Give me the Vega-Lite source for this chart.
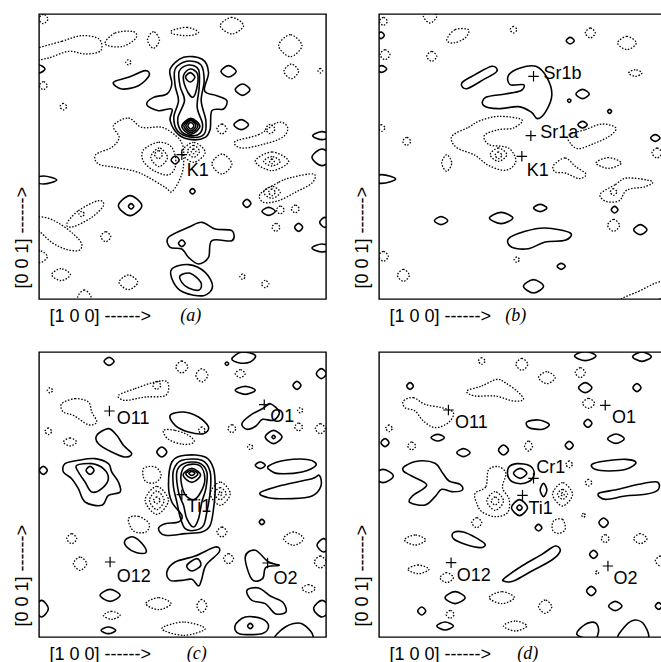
{
"$schema":"https://vega.github.io/schema/vega-lite/v6.json",
"padding":{"left":12,"top":13,"right":0,"bottom":0},
"columns":2,
"spacing":53,
"bounds":"flush",
"config":{
 "view":{"stroke":"black","strokeWidth":1.4},
 "axis":{"domain":false,"ticks":false,"labels":false,"grid":false,"titleFont":"Liberation Sans","titleFontSize":18,"titleFontWeight":"normal","titleColor":"black"},
 "axisX":{"titleX":10,"titleY":22,"titleAlign":"left","titleBaseline":"alphabetic","titleAnchor":"start"},
 "axisY":{"titleX":-12,"titleY":274,"titleAlign":"left","titleBaseline":"alphabetic","titleAngle":270,"titleAnchor":"start"}
},
"datasets":{
"atoms":[
{"p":"a","t":"K1","x":4.28,"y":4.33,"tx":4.43,"ty":3.70},
{"p":"b","t":"Sr1b","x":4.63,"y":6.68,"tx":4.93,"ty":6.61},
{"p":"b","t":"Sr1a","x":4.55,"y":4.90,"tx":4.83,"ty":4.83},
{"p":"b","t":"K1","x":4.28,"y":4.28,"tx":4.43,"ty":3.68},
{"p":"c","t":"O11","x":2.11,"y":6.78,"tx":2.33,"ty":6.40},
{"p":"c","t":"O1","x":6.75,"y":6.97,"tx":6.93,"ty":6.45},
{"p":"c","t":"Ti1","x":4.28,"y":4.27,"tx":4.43,"ty":3.75},
{"p":"c","t":"O12","x":2.13,"y":2.25,"tx":2.33,"ty":1.65},
{"p":"c","t":"O2","x":6.85,"y":2.22,"tx":7.03,"ty":1.60},
{"p":"d","t":"O11","x":2.08,"y":6.81,"tx":2.28,"ty":6.28},
{"p":"d","t":"O1","x":6.78,"y":6.95,"tx":6.98,"ty":6.41},
{"p":"d","t":"Cr1","x":4.63,"y":4.76,"tx":4.71,"ty":4.93},
{"p":"d","t":"Ti1","x":4.30,"y":4.25,"tx":4.48,"ty":3.68},
{"p":"d","t":"O12","x":2.16,"y":2.23,"tx":2.33,"ty":1.68},
{"p":"d","t":"O2","x":6.86,"y":2.13,"tx":7.03,"ty":1.58}
],
"letters":[
{"p":"a","t":"(a)","x":4.23,"y":-0.52},
{"p":"b","t":"(b)","x":3.78,"y":-0.52},
{"p":"c","t":"(c)","x":4.43,"y":-0.52},
{"p":"d","t":"(d)","x":4.14,"y":-0.52}
],
"ap":[
{"c":1,"x":3.93,"y":6.90},{"c":1,"x":4.33,"y":7.25},{"c":1,"x":4.88,"y":7.20},{"c":1,"x":5.08,"y":6.80},{"c":1,"x":4.96,"y":6.25},{"c":1,"x":5.33,"y":6.10},{"c":1,"x":5.63,"y":5.95},{"c":1,"x":5.53,"y":5.70},{"c":1,"x":5.18,"y":5.65},{"c":1,"x":5.13,"y":5.10},{"c":1,"x":4.98,"y":4.85},{"c":1,"x":4.58,"y":4.78},{"c":1,"x":4.18,"y":4.93},{"c":1,"x":3.93,"y":5.35},{"c":1,"x":3.98,"y":5.70},{"c":1,"x":3.58,"y":5.65},{"c":1,"x":3.23,"y":5.83},{"c":1,"x":3.43,"y":6.05},{"c":1,"x":3.83,"y":6.15},{"c":1,"x":3.98,"y":6.45},
{"c":2,"x":4.08,"y":6.90},{"c":2,"x":4.43,"y":7.13},{"c":2,"x":4.85,"y":7.03},{"c":2,"x":4.95,"y":6.55},{"c":2,"x":4.86,"y":5.95},{"c":2,"x":5.00,"y":5.35},{"c":2,"x":4.95,"y":4.95},{"c":2,"x":4.58,"y":4.85},{"c":2,"x":4.16,"y":5.03},{"c":2,"x":4.04,"y":5.45},{"c":2,"x":4.18,"y":5.95},{"c":2,"x":4.08,"y":6.40},
{"c":3,"x":4.20,"y":6.83},{"c":3,"x":4.48,"y":7.02},{"c":3,"x":4.78,"y":6.88},{"c":3,"x":4.80,"y":6.35},{"c":3,"x":4.74,"y":5.75},{"c":3,"x":4.90,"y":5.25},{"c":3,"x":4.82,"y":4.97},{"c":3,"x":4.54,"y":4.90},{"c":3,"x":4.25,"y":5.05},{"c":3,"x":4.16,"y":5.43},{"c":3,"x":4.36,"y":5.95},{"c":3,"x":4.23,"y":6.37},
{"c":4,"x":4.33,"y":6.70},{"c":4,"x":4.53,"y":6.90},{"c":4,"x":4.75,"y":6.75},{"c":4,"x":4.73,"y":6.33},{"c":4,"x":4.60,"y":6.05},{"c":4,"x":4.40,"y":6.33},
{"c":5,"x":4.67,"y":6.65},{"c":5,"x":4.53,"y":6.79},{"c":5,"x":4.39,"y":6.65},{"c":5,"x":4.53,"y":6.51},
{"c":6,"x":4.82,"y":5.18},{"c":6,"x":4.55,"y":5.42},{"c":6,"x":4.28,"y":5.18},{"c":6,"x":4.55,"y":4.94},
{"c":7,"x":4.76,"y":5.19},{"c":7,"x":4.55,"y":5.39},{"c":7,"x":4.34,"y":5.19},{"c":7,"x":4.55,"y":4.99},
{"c":8,"x":4.70,"y":5.20},{"c":8,"x":4.55,"y":5.36},{"c":8,"x":4.40,"y":5.20},{"c":8,"x":4.55,"y":5.04},
{"c":9,"x":4.64,"y":5.20},{"c":9,"x":4.55,"y":5.30},{"c":9,"x":4.46,"y":5.20},{"c":9,"x":4.55,"y":5.10},
{"c":10,"x":2.23,"y":6.50},{"c":10,"x":2.68,"y":6.65},{"c":10,"x":3.18,"y":6.85},{"c":10,"x":3.30,"y":6.70},{"c":10,"x":2.98,"y":6.40},{"c":10,"x":2.48,"y":6.30},
{"c":11,"x":5.91,"y":6.83},{"c":11,"x":5.68,"y":7.00},{"c":11,"x":5.45,"y":6.83},{"c":11,"x":5.68,"y":6.66},
{"c":12,"x":6.32,"y":6.28},{"c":12,"x":6.10,"y":6.45},{"c":12,"x":5.88,"y":6.28},{"c":12,"x":6.10,"y":6.11},
{"c":13,"x":6.28,"y":5.23},{"c":13,"x":6.06,"y":5.38},{"c":13,"x":5.84,"y":5.23},{"c":13,"x":6.06,"y":5.08},
{"c":14,"x":0.18,"y":6.90},{"c":14,"x":0,"y":7.02},{"c":14,"x":-0.18,"y":6.90},{"c":14,"x":0,"y":6.78},
{"c":15,"x":8.76,"y":4.90},{"c":15,"x":8.48,"y":5.02},{"c":15,"x":8.20,"y":4.90},{"c":15,"x":8.48,"y":4.78},
{"c":16,"x":8.78,"y":4.25},{"c":16,"x":8.48,"y":4.50},{"c":16,"x":8.18,"y":4.25},{"c":16,"x":8.48,"y":4.00},
{"c":17,"x":0.53,"y":3.57},{"c":17,"x":0.13,"y":3.69},{"c":17,"x":-0.27,"y":3.57},{"c":17,"x":0.13,"y":3.45},
{"c":18,"x":4.68,"y":3.23},{"c":18,"x":4.60,"y":3.31},{"c":18,"x":4.52,"y":3.23},{"c":18,"x":4.60,"y":3.15},
{"c":19,"x":4.20,"y":4.17},{"c":19,"x":4.08,"y":4.29},{"c":19,"x":3.96,"y":4.17},{"c":19,"x":4.08,"y":4.05},
{"c":20,"x":3.08,"y":2.80},{"c":20,"x":2.73,"y":3.10},{"c":20,"x":2.38,"y":2.80},{"c":20,"x":2.73,"y":2.50},
{"c":21,"x":2.84,"y":2.78},{"c":21,"x":2.76,"y":2.86},{"c":21,"x":2.68,"y":2.78},{"c":21,"x":2.76,"y":2.70},
{"c":22,"x":6.35,"y":2.87},{"c":22,"x":6.23,"y":2.99},{"c":22,"x":6.11,"y":2.87},{"c":22,"x":6.23,"y":2.75},
{"c":23,"x":7.08,"y":2.63},{"c":23,"x":6.88,"y":2.75},{"c":23,"x":6.68,"y":2.63},{"c":23,"x":6.88,"y":2.51},
{"c":24,"x":7.90,"y":2.15},{"c":24,"x":7.78,"y":2.27},{"c":24,"x":7.66,"y":2.15},{"c":24,"x":7.78,"y":2.03},
{"c":25,"x":8.71,"y":2.30},{"c":25,"x":8.56,"y":2.45},{"c":25,"x":8.41,"y":2.30},{"c":25,"x":8.56,"y":2.15},
{"c":26,"x":3.88,"y":1.85},{"c":26,"x":4.48,"y":2.15},{"c":26,"x":4.88,"y":2.30},{"c":26,"x":5.28,"y":2.10},{"c":26,"x":5.78,"y":2.05},{"c":26,"x":5.78,"y":1.75},{"c":26,"x":5.18,"y":1.75},{"c":26,"x":5.08,"y":1.25},{"c":26,"x":4.78,"y":1.05},{"c":26,"x":4.48,"y":1.25},{"c":26,"x":4.28,"y":1.50},{"c":26,"x":3.93,"y":1.55},
{"c":27,"x":4.38,"y":1.67},{"c":27,"x":4.28,"y":1.77},{"c":27,"x":4.18,"y":1.67},{"c":27,"x":4.28,"y":1.57},
{"c":28,"x":3.98,"y":0.90},{"c":28,"x":4.48,"y":1.03},{"c":28,"x":4.98,"y":0.80},{"c":28,"x":5.20,"y":0.37},{"c":28,"x":4.93,"y":0.10},{"c":28,"x":4.33,"y":0.20},{"c":28,"x":4.03,"y":0.50},
{"c":29,"x":4.23,"y":0.70},{"c":29,"x":4.53,"y":0.77},{"c":29,"x":4.85,"y":0.50},{"c":29,"x":4.80,"y":0.27},{"c":29,"x":4.48,"y":0.33},{"c":29,"x":4.28,"y":0.50},
{"c":30,"x":8.78,"y":1.53},{"c":30,"x":8.48,"y":1.65},{"c":30,"x":8.18,"y":1.53},{"c":30,"x":8.48,"y":1.41}
],
"an":[
{"c":31,"x":-0.22,"y":7.45},{"c":31,"x":0.68,"y":7.73},{"c":31,"x":1.28,"y":7.90},{"c":31,"x":1.80,"y":7.80},{"c":31,"x":1.85,"y":7.45},{"c":31,"x":1.40,"y":7.35},{"c":31,"x":0.88,"y":7.43},{"c":31,"x":0.28,"y":7.23},{"c":31,"x":-0.22,"y":7.17},
{"c":32,"x":1.98,"y":7.65},{"c":32,"x":2.28,"y":7.98},{"c":32,"x":2.83,"y":8.02},{"c":32,"x":2.90,"y":7.82},{"c":32,"x":2.48,"y":7.57},
{"c":33,"x":3.61,"y":7.77},{"c":33,"x":3.43,"y":8.02},{"c":33,"x":3.25,"y":7.77},{"c":33,"x":3.43,"y":7.52},
{"c":34,"x":3.98,"y":8.05},{"c":34,"x":4.43,"y":8.15},{"c":34,"x":4.78,"y":8.00},{"c":34,"x":4.48,"y":7.90},{"c":34,"x":4.03,"y":7.95},
{"c":35,"x":6.13,"y":8.20},{"c":35,"x":5.78,"y":8.45},{"c":35,"x":5.43,"y":8.20},{"c":35,"x":5.78,"y":7.95},
{"c":36,"x":7.88,"y":7.60},{"c":36,"x":7.53,"y":7.93},{"c":36,"x":7.18,"y":7.60},{"c":36,"x":7.53,"y":7.27},
{"c":37,"x":7.78,"y":6.83},{"c":37,"x":7.56,"y":7.05},{"c":37,"x":7.34,"y":6.83},{"c":37,"x":7.56,"y":6.61},
{"c":38,"x":8.50,"y":6.85},{"c":38,"x":8.43,"y":6.92},{"c":38,"x":8.36,"y":6.85},{"c":38,"x":8.43,"y":6.78},
{"c":39,"x":2.76,"y":7.10},{"c":39,"x":2.68,"y":7.18},{"c":39,"x":2.60,"y":7.10},{"c":39,"x":2.68,"y":7.02},
{"c":40,"x":0.25,"y":6.40},{"c":40,"x":0.13,"y":6.52},{"c":40,"x":0.01,"y":6.40},{"c":40,"x":0.13,"y":6.28},
{"c":41,"x":0.83,"y":5.77},{"c":41,"x":0.73,"y":5.87},{"c":41,"x":0.63,"y":5.77},{"c":41,"x":0.73,"y":5.67},
{"c":42,"x":2.23,"y":5.20},{"c":42,"x":2.68,"y":5.43},{"c":42,"x":3.08,"y":5.15},{"c":42,"x":3.68,"y":5.15},{"c":42,"x":4.10,"y":4.90},{"c":42,"x":4.30,"y":4.63},{"c":42,"x":4.34,"y":4.25},{"c":42,"x":4.28,"y":3.75},{"c":42,"x":4.00,"y":3.23},{"c":42,"x":3.78,"y":3.35},{"c":42,"x":3.28,"y":3.65},{"c":42,"x":2.88,"y":3.83},{"c":42,"x":2.28,"y":3.95},{"c":42,"x":1.78,"y":4.05},{"c":42,"x":1.70,"y":4.33},{"c":42,"x":2.18,"y":4.55},{"c":42,"x":2.40,"y":4.85},
{"c":43,"x":3.13,"y":4.47},{"c":43,"x":3.58,"y":4.70},{"c":43,"x":3.98,"y":4.55},{"c":43,"x":4.10,"y":4.05},{"c":43,"x":3.90,"y":3.73},{"c":43,"x":3.48,"y":3.83},{"c":43,"x":3.13,"y":4.13},
{"c":44,"x":3.85,"y":4.25},{"c":44,"x":3.60,"y":4.53},{"c":44,"x":3.35,"y":4.25},{"c":44,"x":3.60,"y":3.97},
{"c":45,"x":3.70,"y":4.33},{"c":45,"x":3.58,"y":4.45},{"c":45,"x":3.46,"y":4.33},{"c":45,"x":3.58,"y":4.21},
{"c":46,"x":4.98,"y":4.40},{"c":46,"x":4.63,"y":4.70},{"c":46,"x":4.28,"y":4.40},{"c":46,"x":4.63,"y":4.10},
{"c":47,"x":4.81,"y":4.43},{"c":47,"x":4.63,"y":4.61},{"c":47,"x":4.45,"y":4.43},{"c":47,"x":4.63,"y":4.25},
{"c":48,"x":4.70,"y":4.43},{"c":48,"x":4.63,"y":4.50},{"c":48,"x":4.56,"y":4.43},{"c":48,"x":4.63,"y":4.36},
{"c":49,"x":5.78,"y":4.05},{"c":49,"x":5.48,"y":4.35},{"c":49,"x":5.18,"y":4.05},{"c":49,"x":5.48,"y":3.75},
{"c":50,"x":5.63,"y":5.10},{"c":50,"x":5.48,"y":5.25},{"c":50,"x":5.33,"y":5.10},{"c":50,"x":5.48,"y":4.95},
{"c":51,"x":5.88,"y":4.73},{"c":51,"x":6.58,"y":4.93},{"c":51,"x":7.16,"y":5.30},{"c":51,"x":7.45,"y":5.15},{"c":51,"x":7.30,"y":4.85},{"c":51,"x":6.68,"y":4.63},{"c":51,"x":6.06,"y":4.53},
{"c":52,"x":7.07,"y":5.10},{"c":52,"x":6.93,"y":5.24},{"c":52,"x":6.79,"y":5.10},{"c":52,"x":6.93,"y":4.96},
{"c":53,"x":7.48,"y":4.13},{"c":53,"x":6.98,"y":4.41},{"c":53,"x":6.48,"y":4.13},{"c":53,"x":6.98,"y":3.85},
{"c":54,"x":7.23,"y":4.13},{"c":54,"x":6.98,"y":4.27},{"c":54,"x":6.73,"y":4.13},{"c":54,"x":6.98,"y":3.99},
{"c":55,"x":7.05,"y":4.13},{"c":55,"x":6.98,"y":4.20},{"c":55,"x":6.91,"y":4.13},{"c":55,"x":6.98,"y":4.06},
{"c":56,"x":6.63,"y":3.15},{"c":56,"x":7.18,"y":3.50},{"c":56,"x":7.58,"y":3.65},{"c":56,"x":8.23,"y":3.75},{"c":56,"x":8.18,"y":3.48},{"c":56,"x":7.68,"y":3.20},{"c":56,"x":7.18,"y":2.95},{"c":56,"x":6.73,"y":2.90},
{"c":57,"x":7.23,"y":3.20},{"c":57,"x":6.98,"y":3.38},{"c":57,"x":6.73,"y":3.20},{"c":57,"x":6.98,"y":3.02},
{"c":58,"x":7.08,"y":3.20},{"c":58,"x":6.98,"y":3.30},{"c":58,"x":6.88,"y":3.20},{"c":58,"x":6.98,"y":3.10},
{"c":59,"x":0.83,"y":2.25},{"c":59,"x":1.18,"y":2.65},{"c":59,"x":1.78,"y":2.95},{"c":59,"x":1.93,"y":2.80},{"c":59,"x":1.58,"y":2.45},{"c":59,"x":1.03,"y":2.17},
{"c":60,"x":1.36,"y":2.55},{"c":60,"x":1.28,"y":2.63},{"c":60,"x":1.20,"y":2.55},{"c":60,"x":1.28,"y":2.47},
{"c":61,"x":-0.22,"y":2.40},{"c":61,"x":0.18,"y":2.45},{"c":61,"x":0.63,"y":2.25},{"c":61,"x":1.03,"y":1.95},{"c":61,"x":1.28,"y":1.65},{"c":61,"x":1.18,"y":1.45},{"c":61,"x":0.78,"y":1.50},{"c":61,"x":0.38,"y":1.70},{"c":61,"x":-0.02,"y":2.05},{"c":61,"x":-0.22,"y":2.05},
{"c":62,"x":2.15,"y":1.87},{"c":62,"x":2.00,"y":2.02},{"c":62,"x":1.85,"y":1.87},{"c":62,"x":2.00,"y":1.72},
{"c":63,"x":0.25,"y":1.27},{"c":63,"x":0.03,"y":1.45},{"c":63,"x":-0.19,"y":1.27},{"c":63,"x":0.03,"y":1.09},
{"c":64,"x":0.94,"y":0.73},{"c":64,"x":0.66,"y":0.91},{"c":64,"x":0.38,"y":0.73},{"c":64,"x":0.66,"y":0.55},
{"c":65,"x":1.56,"y":0.05},{"c":65,"x":1.36,"y":0.27},{"c":65,"x":1.16,"y":0.05},{"c":65,"x":1.36,"y":-0.17},
{"c":66,"x":2.96,"y":0.50},{"c":66,"x":2.68,"y":0.72},{"c":66,"x":2.40,"y":0.50},{"c":66,"x":2.68,"y":0.28},
{"c":67,"x":7.35,"y":2.67},{"c":67,"x":7.23,"y":2.79},{"c":67,"x":7.11,"y":2.67},{"c":67,"x":7.23,"y":2.55},
{"c":68,"x":7.80,"y":2.70},{"c":68,"x":7.68,"y":2.82},{"c":68,"x":7.56,"y":2.70},{"c":68,"x":7.68,"y":2.58},
{"c":69,"x":7.22,"y":2.15},{"c":69,"x":7.10,"y":2.27},{"c":69,"x":6.98,"y":2.15},{"c":69,"x":7.10,"y":2.03},
{"c":70,"x":6.18,"y":0.67},{"c":70,"x":6.10,"y":0.75},{"c":70,"x":6.02,"y":0.67},{"c":70,"x":6.10,"y":0.59},
{"c":71,"x":6.89,"y":0.45},{"c":71,"x":6.78,"y":0.56},{"c":71,"x":6.67,"y":0.45},{"c":71,"x":6.78,"y":0.34},
{"c":72,"x":0.27,"y":8.40},{"c":72,"x":0.13,"y":8.54},{"c":72,"x":-0.01,"y":8.40},{"c":72,"x":0.13,"y":8.26}
],
"bp":[
{"c":1,"x":3.88,"y":6.71},{"c":1,"x":4.23,"y":6.93},{"c":1,"x":4.70,"y":6.98},{"c":1,"x":5.03,"y":6.65},{"c":1,"x":5.18,"y":6.13},{"c":1,"x":5.00,"y":5.63},{"c":1,"x":4.75,"y":5.41},{"c":1,"x":4.56,"y":5.61},{"c":1,"x":4.18,"y":5.77},{"c":1,"x":3.58,"y":5.71},{"c":1,"x":3.13,"y":5.81},{"c":1,"x":3.20,"y":6.05},{"c":1,"x":3.78,"y":6.15},{"c":1,"x":4.25,"y":6.25},{"c":1,"x":4.33,"y":6.43},{"c":1,"x":3.93,"y":6.43},
{"c":2,"x":2.48,"y":6.48},{"c":2,"x":2.88,"y":6.73},{"c":2,"x":3.38,"y":6.98},{"c":2,"x":3.53,"y":6.83},{"c":2,"x":3.13,"y":6.58},{"c":2,"x":2.63,"y":6.31},
{"c":3,"x":5.85,"y":7.75},{"c":3,"x":5.73,"y":7.85},{"c":3,"x":5.61,"y":7.75},{"c":3,"x":5.73,"y":7.65},
{"c":4,"x":6.30,"y":6.15},{"c":4,"x":6.10,"y":6.29},{"c":4,"x":5.90,"y":6.15},{"c":4,"x":6.10,"y":6.01},
{"c":5,"x":5.75,"y":5.95},{"c":5,"x":5.70,"y":6.00},{"c":5,"x":5.65,"y":5.95},{"c":5,"x":5.70,"y":5.90},
{"c":6,"x":6.97,"y":5.63},{"c":6,"x":6.91,"y":5.69},{"c":6,"x":6.85,"y":5.63},{"c":6,"x":6.91,"y":5.57},
{"c":7,"x":0.16,"y":7.91},{"c":7,"x":0.06,"y":8.01},{"c":7,"x":-0.04,"y":7.91},{"c":7,"x":0.06,"y":7.81},
{"c":8,"x":0.23,"y":6.90},{"c":8,"x":0.08,"y":7.00},{"c":8,"x":-0.07,"y":6.90},{"c":8,"x":0.08,"y":6.80},
{"c":9,"x":0.50,"y":3.60},{"c":9,"x":0.08,"y":3.73},{"c":9,"x":-0.34,"y":3.60},{"c":9,"x":0.08,"y":3.47},
{"c":10,"x":2.06,"y":2.35},{"c":10,"x":1.86,"y":2.47},{"c":10,"x":1.66,"y":2.35},{"c":10,"x":1.86,"y":2.23},
{"c":11,"x":4.01,"y":2.43},{"c":11,"x":3.66,"y":2.60},{"c":11,"x":3.31,"y":2.43},{"c":11,"x":3.66,"y":2.26},
{"c":12,"x":5.03,"y":2.73},{"c":12,"x":4.83,"y":2.84},{"c":12,"x":4.63,"y":2.73},{"c":12,"x":4.83,"y":2.62},
{"c":13,"x":3.88,"y":1.81},{"c":13,"x":4.38,"y":2.03},{"c":13,"x":4.98,"y":2.13},{"c":13,"x":5.73,"y":1.98},{"c":13,"x":5.58,"y":1.76},{"c":13,"x":4.98,"y":1.71},{"c":13,"x":4.48,"y":1.51},{"c":13,"x":3.98,"y":1.55},
{"c":14,"x":5.58,"y":0.98},{"c":14,"x":5.46,"y":1.07},{"c":14,"x":5.34,"y":0.98},{"c":14,"x":5.46,"y":0.89},
{"c":15,"x":4.93,"y":0.38},{"c":15,"x":4.63,"y":0.58},{"c":15,"x":4.33,"y":0.38},{"c":15,"x":4.63,"y":0.18},
{"c":16,"x":7.16,"y":2.68},{"c":16,"x":7.06,"y":2.78},{"c":16,"x":6.96,"y":2.68},{"c":16,"x":7.06,"y":2.58},
{"c":17,"x":8.03,"y":2.08},{"c":17,"x":7.83,"y":2.23},{"c":17,"x":7.63,"y":2.08},{"c":17,"x":7.83,"y":1.93},
{"c":18,"x":8.42,"y":4.83},{"c":18,"x":8.28,"y":4.93},{"c":18,"x":8.14,"y":4.83},{"c":18,"x":8.28,"y":4.73},
{"c":19,"x":6.24,"y":5.23},{"c":19,"x":6.10,"y":5.33},{"c":19,"x":5.96,"y":5.23},{"c":19,"x":6.10,"y":5.13}
],
"bn":[
{"c":20,"x":2.23,"y":4.93},{"c":20,"x":2.68,"y":5.15},{"c":20,"x":3.03,"y":5.35},{"c":20,"x":3.58,"y":5.48},{"c":20,"x":4.28,"y":5.38},{"c":20,"x":4.03,"y":5.13},{"c":20,"x":3.58,"y":5.08},{"c":20,"x":3.16,"y":4.91},{"c":20,"x":3.30,"y":4.63},{"c":20,"x":3.88,"y":4.53},{"c":20,"x":4.10,"y":4.13},{"c":20,"x":3.80,"y":3.86},{"c":20,"x":3.28,"y":4.01},{"c":20,"x":2.88,"y":4.31},{"c":20,"x":2.38,"y":4.51},{"c":20,"x":2.18,"y":4.73},
{"c":21,"x":3.83,"y":4.33},{"c":21,"x":3.58,"y":4.53},{"c":21,"x":3.33,"y":4.33},{"c":21,"x":3.58,"y":4.13},
{"c":22,"x":3.68,"y":4.31},{"c":22,"x":3.58,"y":4.41},{"c":22,"x":3.48,"y":4.31},{"c":22,"x":3.58,"y":4.21},
{"c":23,"x":2.18,"y":4.08},{"c":23,"x":2.03,"y":4.33},{"c":23,"x":1.88,"y":4.08},{"c":23,"x":2.03,"y":3.83},
{"c":24,"x":0.95,"y":4.73},{"c":24,"x":0.83,"y":4.85},{"c":24,"x":0.71,"y":4.73},{"c":24,"x":0.83,"y":4.61},
{"c":25,"x":1.73,"y":7.28},{"c":25,"x":1.58,"y":7.43},{"c":25,"x":1.43,"y":7.28},{"c":25,"x":1.58,"y":7.13},
{"c":26,"x":2.03,"y":7.78},{"c":26,"x":2.28,"y":8.08},{"c":26,"x":2.68,"y":8.08},{"c":26,"x":2.58,"y":7.83},{"c":26,"x":2.23,"y":7.68},
{"c":27,"x":4.13,"y":8.08},{"c":27,"x":4.03,"y":8.18},{"c":27,"x":3.93,"y":8.08},{"c":27,"x":4.03,"y":7.98},
{"c":28,"x":6.48,"y":7.98},{"c":28,"x":6.33,"y":8.13},{"c":28,"x":6.18,"y":7.98},{"c":28,"x":6.33,"y":7.83},
{"c":29,"x":7.71,"y":7.68},{"c":29,"x":7.43,"y":7.88},{"c":29,"x":7.15,"y":7.68},{"c":29,"x":7.43,"y":7.48},
{"c":30,"x":7.88,"y":6.78},{"c":30,"x":7.68,"y":6.88},{"c":30,"x":7.48,"y":6.78},{"c":30,"x":7.68,"y":6.68},
{"c":31,"x":0.33,"y":7.33},{"c":31,"x":0.18,"y":7.48},{"c":31,"x":0.03,"y":7.33},{"c":31,"x":0.18,"y":7.18},
{"c":32,"x":0.18,"y":5.13},{"c":32,"x":0.08,"y":5.23},{"c":32,"x":-0.02,"y":5.13},{"c":32,"x":0.08,"y":5.03},
{"c":33,"x":5.68,"y":4.91},{"c":33,"x":6.18,"y":5.08},{"c":33,"x":6.68,"y":5.25},{"c":33,"x":7.10,"y":5.13},{"c":33,"x":6.90,"y":4.88},{"c":33,"x":6.48,"y":4.68},{"c":33,"x":5.98,"y":4.51},{"c":33,"x":5.73,"y":4.68},
{"c":34,"x":5.23,"y":4.01},{"c":34,"x":5.58,"y":4.23},{"c":34,"x":5.88,"y":3.98},{"c":34,"x":6.20,"y":3.75},{"c":34,"x":6.00,"y":3.61},{"c":34,"x":5.58,"y":3.78},{"c":34,"x":5.28,"y":3.81},
{"c":35,"x":7.26,"y":4.08},{"c":35,"x":6.88,"y":4.24},{"c":35,"x":6.50,"y":4.08},{"c":35,"x":6.88,"y":3.92},
{"c":36,"x":8.48,"y":4.38},{"c":36,"x":8.33,"y":4.53},{"c":36,"x":8.18,"y":4.38},{"c":36,"x":8.33,"y":4.23},
{"c":37,"x":6.63,"y":3.15},{"c":37,"x":7.08,"y":3.43},{"c":37,"x":7.43,"y":3.63},{"c":37,"x":8.18,"y":3.53},{"c":37,"x":7.98,"y":3.37},{"c":37,"x":7.43,"y":3.27},{"c":37,"x":7.20,"y":2.95},{"c":37,"x":6.80,"y":2.93},
{"c":38,"x":7.13,"y":3.21},{"c":38,"x":7.03,"y":3.31},{"c":38,"x":6.93,"y":3.21},{"c":38,"x":7.03,"y":3.11},
{"c":39,"x":7.21,"y":2.21},{"c":39,"x":7.03,"y":2.39},{"c":39,"x":6.85,"y":2.21},{"c":39,"x":7.03,"y":2.03},
{"c":40,"x":4.21,"y":1.18},{"c":40,"x":4.13,"y":1.26},{"c":40,"x":4.05,"y":1.18},{"c":40,"x":4.13,"y":1.10},
{"c":41,"x":0.91,"y":0.71},{"c":41,"x":0.73,"y":0.89},{"c":41,"x":0.55,"y":0.71},{"c":41,"x":0.73,"y":0.53},
{"c":42,"x":0.28,"y":1.28},{"c":42,"x":0.13,"y":1.43},{"c":42,"x":-0.02,"y":1.28},{"c":42,"x":0.13,"y":1.13},
{"c":43,"x":7.18,"y":-0.07},{"c":43,"x":7.78,"y":0.23},{"c":43,"x":8.48,"y":0.53},{"c":43,"x":8.73,"y":0.23},{"c":43,"x":8.08,"y":-0.12},
{"c":44,"x":1.73,"y":8.48},{"c":44,"x":1.53,"y":8.68},{"c":44,"x":1.33,"y":8.48},{"c":44,"x":1.53,"y":8.28},
{"c":45,"x":0.25,"y":8.33},{"c":45,"x":0.13,"y":8.45},{"c":45,"x":0.01,"y":8.33},{"c":45,"x":0.13,"y":8.21}
],
"cp":[
{"c":1,"x":3.98,"y":5.25},{"c":1,"x":4.38,"y":5.45},{"c":1,"x":4.98,"y":5.40},{"c":1,"x":5.23,"y":5.05},{"c":1,"x":5.28,"y":4.45},{"c":1,"x":5.23,"y":3.85},{"c":1,"x":5.13,"y":3.35},{"c":1,"x":4.88,"y":3.15},{"c":1,"x":4.38,"y":3.10},{"c":1,"x":3.78,"y":3.05},{"c":1,"x":3.58,"y":3.25},{"c":1,"x":3.78,"y":3.40},{"c":1,"x":4.18,"y":3.45},{"c":1,"x":4.28,"y":3.65},{"c":1,"x":3.98,"y":4.05},{"c":1,"x":3.88,"y":4.55},
{"c":2,"x":4.03,"y":5.00},{"c":2,"x":4.28,"y":5.30},{"c":2,"x":4.88,"y":5.30},{"c":2,"x":5.13,"y":4.95},{"c":2,"x":5.13,"y":4.35},{"c":2,"x":5.03,"y":3.75},{"c":2,"x":4.93,"y":3.35},{"c":2,"x":4.68,"y":3.20},{"c":2,"x":4.38,"y":3.25},{"c":2,"x":4.23,"y":3.60},{"c":2,"x":4.13,"y":4.05},{"c":2,"x":4.03,"y":4.50},
{"c":3,"x":4.13,"y":4.95},{"c":3,"x":4.33,"y":5.20},{"c":3,"x":4.78,"y":5.23},{"c":3,"x":5.03,"y":4.95},{"c":3,"x":5.00,"y":4.45},{"c":3,"x":4.88,"y":4.05},{"c":3,"x":4.78,"y":3.55},{"c":3,"x":4.63,"y":3.30},{"c":3,"x":4.43,"y":3.55},{"c":3,"x":4.33,"y":3.95},{"c":3,"x":4.18,"y":4.35},
{"c":4,"x":4.25,"y":4.80},{"c":4,"x":4.40,"y":5.14},{"c":4,"x":4.82,"y":5.14},{"c":4,"x":4.97,"y":4.75},{"c":4,"x":4.85,"y":4.35},{"c":4,"x":4.63,"y":4.12},{"c":4,"x":4.36,"y":4.30},
{"c":5,"x":4.84,"y":4.86},{"c":5,"x":4.58,"y":5.06},{"c":5,"x":4.32,"y":4.86},{"c":5,"x":4.58,"y":4.64},
{"c":6,"x":4.76,"y":4.89},{"c":6,"x":4.58,"y":5.01},{"c":6,"x":4.40,"y":4.89},{"c":6,"x":4.58,"y":4.76},
{"c":7,"x":4.67,"y":4.91},{"c":7,"x":4.58,"y":4.97},{"c":7,"x":4.49,"y":4.91},{"c":7,"x":4.58,"y":4.85},
{"c":9,"x":0.78,"y":5.20},{"c":9,"x":1.18,"y":5.30},{"c":9,"x":1.68,"y":5.35},{"c":9,"x":2.08,"y":5.20},{"c":9,"x":2.18,"y":4.95},{"c":9,"x":2.38,"y":4.65},{"c":9,"x":2.43,"y":4.35},{"c":9,"x":2.08,"y":4.25},{"c":9,"x":1.88,"y":3.95},{"c":9,"x":1.38,"y":4.05},{"c":9,"x":1.18,"y":4.45},{"c":9,"x":0.98,"y":4.75},{"c":9,"x":0.73,"y":4.95},
{"c":10,"x":1.13,"y":5.15},{"c":10,"x":1.58,"y":5.20},{"c":10,"x":1.93,"y":5.05},{"c":10,"x":2.08,"y":4.75},{"c":10,"x":1.88,"y":4.45},{"c":10,"x":1.58,"y":4.35},{"c":10,"x":1.38,"y":4.65},{"c":10,"x":1.18,"y":4.95},
{"c":11,"x":1.65,"y":5.00},{"c":11,"x":1.53,"y":5.12},{"c":11,"x":1.41,"y":5.00},{"c":11,"x":1.53,"y":4.88},
{"c":12,"x":1.73,"y":6.05},{"c":12,"x":2.08,"y":6.25},{"c":12,"x":2.33,"y":6.05},{"c":12,"x":2.53,"y":5.75},{"c":12,"x":2.78,"y":5.50},{"c":12,"x":2.58,"y":5.40},{"c":12,"x":2.18,"y":5.55},{"c":12,"x":1.78,"y":5.80},
{"c":13,"x":2.25,"y":8.27},{"c":13,"x":2.10,"y":8.39},{"c":13,"x":1.95,"y":8.27},{"c":13,"x":2.10,"y":8.15},
{"c":14,"x":3.93,"y":6.65},{"c":14,"x":4.33,"y":6.75},{"c":14,"x":4.78,"y":6.60},{"c":14,"x":5.08,"y":6.30},{"c":14,"x":4.93,"y":6.10},{"c":14,"x":4.48,"y":6.15},{"c":14,"x":4.08,"y":6.35},
{"c":15,"x":3.83,"y":5.55},{"c":15,"x":3.68,"y":5.70},{"c":15,"x":3.53,"y":5.55},{"c":15,"x":3.68,"y":5.40},
{"c":16,"x":5.68,"y":8.20},{"c":16,"x":5.63,"y":8.25},{"c":16,"x":5.58,"y":8.20},{"c":16,"x":5.63,"y":8.15},
{"c":17,"x":5.78,"y":8.35},{"c":17,"x":6.08,"y":8.55},{"c":17,"x":6.48,"y":8.45},{"c":17,"x":6.33,"y":8.25},{"c":17,"x":5.98,"y":8.23},
{"c":18,"x":7.85,"y":7.55},{"c":18,"x":7.73,"y":7.67},{"c":18,"x":7.61,"y":7.55},{"c":18,"x":7.73,"y":7.43},
{"c":19,"x":8.61,"y":7.90},{"c":19,"x":8.46,"y":8.05},{"c":19,"x":8.31,"y":7.90},{"c":19,"x":8.46,"y":7.75},
{"c":20,"x":6.48,"y":7.40},{"c":20,"x":6.18,"y":7.52},{"c":20,"x":5.88,"y":7.40},{"c":20,"x":6.18,"y":7.28},
{"c":21,"x":6.08,"y":6.40},{"c":21,"x":6.33,"y":6.65},{"c":21,"x":6.73,"y":6.87},{"c":21,"x":6.93,"y":7.00},{"c":21,"x":7.20,"y":6.75},{"c":21,"x":7.03,"y":6.50},{"c":21,"x":6.70,"y":6.53},{"c":21,"x":6.50,"y":6.33},{"c":21,"x":6.23,"y":6.23},
{"c":22,"x":7.28,"y":6.00},{"c":22,"x":7.03,"y":6.20},{"c":22,"x":6.78,"y":6.00},{"c":22,"x":7.03,"y":5.80},
{"c":23,"x":7.08,"y":6.00},{"c":23,"x":7.03,"y":6.05},{"c":23,"x":6.98,"y":6.00},{"c":23,"x":7.03,"y":5.95},
{"c":24,"x":6.78,"y":5.15},{"c":24,"x":6.63,"y":5.25},{"c":24,"x":6.48,"y":5.15},{"c":24,"x":6.63,"y":5.05},
{"c":25,"x":6.88,"y":5.13},{"c":25,"x":7.38,"y":5.30},{"c":25,"x":8.08,"y":5.32},{"c":25,"x":8.30,"y":5.15},{"c":25,"x":7.88,"y":4.95},{"c":25,"x":7.18,"y":4.90},{"c":25,"x":6.93,"y":5.00},
{"c":26,"x":6.63,"y":4.33},{"c":26,"x":7.28,"y":4.55},{"c":26,"x":8.18,"y":4.75},{"c":26,"x":8.40,"y":4.85},{"c":26,"x":8.45,"y":4.53},{"c":26,"x":8.18,"y":4.23},{"c":26,"x":7.58,"y":4.15},{"c":26,"x":6.88,"y":4.18},
{"c":27,"x":6.76,"y":3.45},{"c":27,"x":6.68,"y":3.53},{"c":27,"x":6.60,"y":3.45},{"c":27,"x":6.68,"y":3.37},
{"c":28,"x":3.83,"y":1.95},{"c":28,"x":4.08,"y":2.25},{"c":28,"x":4.68,"y":2.43},{"c":28,"x":5.28,"y":2.70},{"c":28,"x":5.40,"y":2.55},{"c":28,"x":5.00,"y":2.15},{"c":28,"x":4.88,"y":1.75},{"c":28,"x":4.78,"y":1.53},{"c":28,"x":4.58,"y":1.73},{"c":28,"x":4.28,"y":1.70},{"c":28,"x":3.93,"y":1.70},
{"c":29,"x":4.43,"y":2.15},{"c":29,"x":4.73,"y":2.35},{"c":29,"x":4.85,"y":2.15},{"c":29,"x":4.58,"y":1.98},
{"c":30,"x":2.58,"y":2.90},{"c":30,"x":2.83,"y":3.00},{"c":30,"x":3.13,"y":2.75},{"c":30,"x":3.20,"y":2.53},{"c":30,"x":2.93,"y":2.53},{"c":30,"x":2.63,"y":2.70},
{"c":31,"x":2.43,"y":1.25},{"c":31,"x":2.13,"y":1.43},{"c":31,"x":1.83,"y":1.25},{"c":31,"x":2.13,"y":1.07},
{"c":32,"x":2.30,"y":0.20},{"c":32,"x":2.08,"y":0.30},{"c":32,"x":1.86,"y":0.20},{"c":32,"x":2.08,"y":0.10},
{"c":33,"x":0.28,"y":0.85},{"c":33,"x":0.08,"y":1.10},{"c":33,"x":-0.12,"y":0.85},{"c":33,"x":0.08,"y":0.60},
{"c":34,"x":0.25,"y":5.00},{"c":34,"x":0.13,"y":5.12},{"c":34,"x":0.01,"y":5.00},{"c":34,"x":0.13,"y":4.88},
{"c":35,"x":6.18,"y":2.40},{"c":35,"x":6.48,"y":2.60},{"c":35,"x":6.88,"y":2.25},{"c":35,"x":7.20,"y":2.15},{"c":35,"x":6.80,"y":2.09},{"c":35,"x":6.70,"y":1.75},{"c":35,"x":6.38,"y":1.73},
{"c":36,"x":6.23,"y":1.40},{"c":36,"x":6.58,"y":1.47},{"c":36,"x":6.93,"y":1.23},{"c":36,"x":7.30,"y":1.05},{"c":36,"x":7.40,"y":0.75},{"c":36,"x":7.08,"y":0.70},{"c":36,"x":6.78,"y":1.00},{"c":36,"x":6.38,"y":1.10},
{"c":37,"x":5.88,"y":0.35},{"c":37,"x":6.18,"y":0.60},{"c":37,"x":6.68,"y":0.55},{"c":37,"x":6.88,"y":0.33},{"c":37,"x":6.68,"y":0.10},{"c":37,"x":6.00,"y":0.10},
{"c":38,"x":6.41,"y":0.33},{"c":38,"x":6.33,"y":0.41},{"c":38,"x":6.25,"y":0.33},{"c":38,"x":6.33,"y":0.25},
{"c":39,"x":7.08,"y":-0.10},{"c":39,"x":7.38,"y":0.30},{"c":39,"x":7.88,"y":0.40},{"c":39,"x":8.18,"y":-0.05},
{"c":40,"x":8.73,"y":0.85},{"c":40,"x":8.48,"y":1.10},{"c":40,"x":8.23,"y":0.85},{"c":40,"x":8.48,"y":0.60},
{"c":41,"x":8.73,"y":2.75},{"c":41,"x":8.53,"y":2.95},{"c":41,"x":8.33,"y":2.75},{"c":41,"x":8.53,"y":2.55}
],
"cn":[
{"c":42,"x":2.38,"y":7.25},{"c":42,"x":2.88,"y":7.45},{"c":42,"x":3.48,"y":7.65},{"c":42,"x":3.85,"y":7.65},{"c":42,"x":3.80,"y":7.25},{"c":42,"x":3.18,"y":7.20},{"c":42,"x":2.58,"y":7.10},
{"c":43,"x":3.65,"y":7.55},{"c":43,"x":3.53,"y":7.67},{"c":43,"x":3.41,"y":7.55},{"c":43,"x":3.53,"y":7.43},
{"c":44,"x":4.46,"y":8.10},{"c":44,"x":4.28,"y":8.28},{"c":44,"x":4.10,"y":8.10},{"c":44,"x":4.28,"y":7.92},
{"c":45,"x":5.06,"y":7.85},{"c":45,"x":4.88,"y":8.05},{"c":45,"x":4.70,"y":7.85},{"c":45,"x":4.88,"y":7.65},
{"c":46,"x":6.18,"y":7.90},{"c":46,"x":6.03,"y":8.02},{"c":46,"x":5.88,"y":7.90},{"c":46,"x":6.03,"y":7.78},
{"c":47,"x":0.68,"y":7.00},{"c":47,"x":1.08,"y":7.15},{"c":47,"x":1.48,"y":7.05},{"c":47,"x":1.58,"y":6.75},{"c":47,"x":1.73,"y":6.45},{"c":47,"x":1.48,"y":6.37},{"c":47,"x":1.03,"y":6.65},{"c":47,"x":0.73,"y":6.75},
{"c":48,"x":0.41,"y":7.40},{"c":48,"x":0.33,"y":7.48},{"c":48,"x":0.25,"y":7.40},{"c":48,"x":0.33,"y":7.32},
{"c":49,"x":0.38,"y":6.17},{"c":49,"x":0.28,"y":6.27},{"c":49,"x":0.18,"y":6.17},{"c":49,"x":0.28,"y":6.07},
{"c":50,"x":1.13,"y":5.85},{"c":50,"x":0.93,"y":5.97},{"c":50,"x":0.73,"y":5.85},{"c":50,"x":0.93,"y":5.73},
{"c":51,"x":3.73,"y":6.20},{"c":51,"x":4.08,"y":6.20},{"c":51,"x":4.48,"y":6.05},{"c":51,"x":4.65,"y":5.85},{"c":51,"x":4.33,"y":5.78},{"c":51,"x":3.88,"y":5.93},
{"c":52,"x":4.98,"y":6.20},{"c":52,"x":4.88,"y":6.30},{"c":52,"x":4.78,"y":6.20},{"c":52,"x":4.88,"y":6.10},
{"c":53,"x":6.41,"y":5.70},{"c":53,"x":6.33,"y":5.78},{"c":53,"x":6.25,"y":5.70},{"c":53,"x":6.33,"y":5.62},
{"c":54,"x":5.90,"y":6.25},{"c":54,"x":5.78,"y":6.37},{"c":54,"x":5.66,"y":6.25},{"c":54,"x":5.78,"y":6.13},
{"c":55,"x":7.90,"y":6.30},{"c":55,"x":7.78,"y":6.42},{"c":55,"x":7.66,"y":6.30},{"c":55,"x":7.78,"y":6.18},
{"c":56,"x":8.58,"y":6.25},{"c":56,"x":8.43,"y":6.40},{"c":56,"x":8.28,"y":6.25},{"c":56,"x":8.43,"y":6.10},
{"c":57,"x":7.91,"y":6.80},{"c":57,"x":7.83,"y":6.88},{"c":57,"x":7.75,"y":6.80},{"c":57,"x":7.83,"y":6.72},
{"c":58,"x":3.13,"y":5.05},{"c":58,"x":3.48,"y":5.10},{"c":58,"x":3.66,"y":4.85},{"c":58,"x":3.48,"y":4.63},{"c":58,"x":3.18,"y":4.68},
{"c":59,"x":3.88,"y":4.10},{"c":59,"x":3.53,"y":4.52},{"c":59,"x":3.18,"y":4.10},{"c":59,"x":3.53,"y":3.68},
{"c":60,"x":3.75,"y":4.10},{"c":60,"x":3.53,"y":4.38},{"c":60,"x":3.31,"y":4.10},{"c":60,"x":3.53,"y":3.82},
{"c":61,"x":3.63,"y":4.10},{"c":61,"x":3.53,"y":4.20},{"c":61,"x":3.43,"y":4.10},{"c":61,"x":3.53,"y":4.00},
{"c":62,"x":5.73,"y":4.30},{"c":62,"x":5.43,"y":4.65},{"c":62,"x":5.13,"y":4.30},{"c":62,"x":5.43,"y":3.95},
{"c":63,"x":5.61,"y":4.30},{"c":63,"x":5.43,"y":4.48},{"c":63,"x":5.25,"y":4.30},{"c":63,"x":5.43,"y":4.12},
{"c":64,"x":5.49,"y":4.30},{"c":64,"x":5.43,"y":4.36},{"c":64,"x":5.37,"y":4.30},{"c":64,"x":5.43,"y":4.24},
{"c":65,"x":2.68,"y":3.55},{"c":65,"x":2.98,"y":3.62},{"c":65,"x":3.30,"y":3.40},{"c":65,"x":3.20,"y":3.15},{"c":65,"x":2.83,"y":3.18},
{"c":66,"x":1.13,"y":2.95},{"c":66,"x":0.98,"y":3.10},{"c":66,"x":0.83,"y":2.95},{"c":66,"x":0.98,"y":2.80},
{"c":67,"x":1.43,"y":2.20},{"c":67,"x":1.23,"y":2.40},{"c":67,"x":1.03,"y":2.20},{"c":67,"x":1.23,"y":2.00},
{"c":68,"x":5.63,"y":3.15},{"c":68,"x":5.48,"y":3.30},{"c":68,"x":5.33,"y":3.15},{"c":68,"x":5.48,"y":3.00},
{"c":69,"x":5.83,"y":2.35},{"c":69,"x":5.68,"y":2.50},{"c":69,"x":5.53,"y":2.35},{"c":69,"x":5.68,"y":2.20},
{"c":70,"x":7.93,"y":2.95},{"c":70,"x":7.63,"y":3.15},{"c":70,"x":7.33,"y":2.95},{"c":70,"x":7.63,"y":2.75},
{"c":71,"x":8.61,"y":2.25},{"c":71,"x":8.43,"y":2.43},{"c":71,"x":8.25,"y":2.25},{"c":71,"x":8.43,"y":2.07},
{"c":72,"x":8.28,"y":1.45},{"c":72,"x":8.08,"y":1.57},{"c":72,"x":7.88,"y":1.45},{"c":72,"x":8.08,"y":1.33},
{"c":73,"x":3.96,"y":1.00},{"c":73,"x":3.58,"y":1.18},{"c":73,"x":3.20,"y":1.00},{"c":73,"x":3.58,"y":0.82},
{"c":74,"x":4.98,"y":0.25},{"c":74,"x":4.33,"y":0.45},{"c":74,"x":3.68,"y":0.25},{"c":74,"x":4.33,"y":0.05},
{"c":75,"x":5.03,"y":0.93},{"c":75,"x":4.88,"y":1.13},{"c":75,"x":4.73,"y":0.93},{"c":75,"x":4.88,"y":0.73},
{"c":76,"x":2.43,"y":0.65},{"c":76,"x":2.18,"y":0.77},{"c":76,"x":1.93,"y":0.65},{"c":76,"x":2.18,"y":0.53}
],
"dp":[
{"c":1,"x":3.88,"y":5.08},{"c":1,"x":4.13,"y":5.20},{"c":1,"x":4.53,"y":5.13},{"c":1,"x":4.65,"y":4.88},{"c":1,"x":4.48,"y":4.66},{"c":1,"x":4.13,"y":4.61},{"c":1,"x":3.88,"y":4.78},
{"c":2,"x":4.43,"y":4.91},{"c":2,"x":4.23,"y":5.06},{"c":2,"x":4.03,"y":4.91},{"c":2,"x":4.23,"y":4.76},
{"c":3,"x":5.03,"y":4.41},{"c":3,"x":4.93,"y":4.61},{"c":3,"x":4.83,"y":4.41},{"c":3,"x":4.93,"y":4.21},
{"c":4,"x":4.45,"y":3.88},{"c":4,"x":4.21,"y":4.12},{"c":4,"x":3.97,"y":3.88},{"c":4,"x":4.21,"y":3.64},
{"c":5,"x":4.29,"y":3.88},{"c":5,"x":4.21,"y":3.96},{"c":5,"x":4.13,"y":3.88},{"c":5,"x":4.21,"y":3.80},
{"c":6,"x":0.78,"y":5.13},{"c":6,"x":1.20,"y":5.28},{"c":6,"x":1.68,"y":5.21},{"c":6,"x":1.90,"y":4.93},{"c":6,"x":2.10,"y":4.68},{"c":6,"x":2.43,"y":4.58},{"c":6,"x":2.50,"y":4.41},{"c":6,"x":2.18,"y":4.36},{"c":6,"x":1.88,"y":4.43},{"c":6,"x":1.68,"y":4.21},{"c":6,"x":1.38,"y":3.96},{"c":6,"x":0.93,"y":4.03},{"c":6,"x":1.00,"y":4.23},{"c":6,"x":1.43,"y":4.56},{"c":6,"x":0.98,"y":4.83},{"c":6,"x":0.73,"y":4.98},
{"c":7,"x":0.43,"y":4.83},{"c":7,"x":0.13,"y":5.03},{"c":7,"x":-0.17,"y":4.83},{"c":7,"x":0.13,"y":4.63},
{"c":8,"x":0.30,"y":5.83},{"c":8,"x":0.18,"y":5.95},{"c":8,"x":0.06,"y":5.83},{"c":8,"x":0.18,"y":5.71},
{"c":9,"x":1.03,"y":7.53},{"c":9,"x":0.93,"y":7.63},{"c":9,"x":0.83,"y":7.53},{"c":9,"x":0.93,"y":7.43},
{"c":10,"x":1.96,"y":5.98},{"c":10,"x":1.76,"y":6.08},{"c":10,"x":1.56,"y":5.98},{"c":10,"x":1.76,"y":5.88},
{"c":11,"x":2.73,"y":5.53},{"c":11,"x":2.53,"y":5.65},{"c":11,"x":2.33,"y":5.53},{"c":11,"x":2.53,"y":5.41},
{"c":12,"x":3.88,"y":5.61},{"c":12,"x":3.73,"y":5.76},{"c":12,"x":3.58,"y":5.61},{"c":12,"x":3.73,"y":5.46},
{"c":13,"x":5.82,"y":5.75},{"c":13,"x":5.70,"y":5.87},{"c":13,"x":5.58,"y":5.75},{"c":13,"x":5.70,"y":5.63},
{"c":14,"x":6.38,"y":7.48},{"c":14,"x":6.18,"y":7.63},{"c":14,"x":5.98,"y":7.48},{"c":14,"x":6.18,"y":7.33},
{"c":15,"x":6.50,"y":8.43},{"c":15,"x":6.18,"y":8.57},{"c":15,"x":5.86,"y":8.43},{"c":15,"x":6.18,"y":8.29},
{"c":16,"x":8.16,"y":8.41},{"c":16,"x":7.88,"y":8.55},{"c":16,"x":7.60,"y":8.41},{"c":16,"x":7.88,"y":8.27},
{"c":17,"x":7.85,"y":7.48},{"c":17,"x":7.73,"y":7.60},{"c":17,"x":7.61,"y":7.48},{"c":17,"x":7.73,"y":7.36},
{"c":18,"x":6.38,"y":6.41},{"c":18,"x":6.26,"y":6.53},{"c":18,"x":6.14,"y":6.41},{"c":18,"x":6.26,"y":6.29},
{"c":19,"x":7.35,"y":5.95},{"c":19,"x":7.10,"y":6.09},{"c":19,"x":6.85,"y":5.95},{"c":19,"x":7.10,"y":5.81},
{"c":20,"x":4.43,"y":6.45},{"c":20,"x":4.78,"y":6.51},{"c":20,"x":5.10,"y":6.38},{"c":20,"x":4.90,"y":6.23},{"c":20,"x":4.50,"y":6.28},
{"c":21,"x":6.38,"y":5.18},{"c":21,"x":6.78,"y":5.28},{"c":21,"x":7.40,"y":5.33},{"c":21,"x":7.70,"y":5.23},{"c":21,"x":7.40,"y":5.03},{"c":21,"x":6.88,"y":4.98},{"c":21,"x":6.48,"y":5.03},
{"c":22,"x":6.58,"y":4.31},{"c":22,"x":7.18,"y":4.43},{"c":22,"x":7.78,"y":4.58},{"c":22,"x":8.33,"y":4.65},{"c":22,"x":8.36,"y":4.41},{"c":22,"x":7.98,"y":4.28},{"c":22,"x":7.38,"y":4.23},{"c":22,"x":6.78,"y":4.13},
{"c":23,"x":6.87,"y":3.43},{"c":23,"x":6.73,"y":3.57},{"c":23,"x":6.59,"y":3.43},{"c":23,"x":6.73,"y":3.29},
{"c":24,"x":6.55,"y":2.48},{"c":24,"x":6.43,"y":2.60},{"c":24,"x":6.31,"y":2.48},{"c":24,"x":6.43,"y":2.36},
{"c":25,"x":6.50,"y":1.38},{"c":25,"x":6.36,"y":1.52},{"c":25,"x":6.22,"y":1.38},{"c":25,"x":6.36,"y":1.24},
{"c":26,"x":7.28,"y":0.93},{"c":26,"x":7.08,"y":1.07},{"c":26,"x":6.88,"y":0.93},{"c":26,"x":7.08,"y":0.79},
{"c":27,"x":8.48,"y":0.93},{"c":27,"x":8.38,"y":1.03},{"c":27,"x":8.28,"y":0.93},{"c":27,"x":8.38,"y":0.83},
{"c":28,"x":4.88,"y":3.28},{"c":28,"x":4.78,"y":3.38},{"c":28,"x":4.68,"y":3.28},{"c":28,"x":4.78,"y":3.18},
{"c":29,"x":3.78,"y":1.78},{"c":29,"x":4.28,"y":2.13},{"c":29,"x":4.88,"y":2.48},{"c":29,"x":5.28,"y":2.73},{"c":29,"x":5.43,"y":2.58},{"c":29,"x":5.18,"y":2.31},{"c":29,"x":4.58,"y":1.98},{"c":29,"x":4.03,"y":1.68},{"c":29,"x":3.73,"y":1.68},
{"c":30,"x":2.23,"y":3.13},{"c":30,"x":2.53,"y":3.15},{"c":30,"x":2.90,"y":2.98},{"c":30,"x":3.18,"y":2.78},{"c":30,"x":3.03,"y":2.68},{"c":30,"x":2.58,"y":2.78},{"c":30,"x":2.23,"y":2.95},
{"c":31,"x":2.58,"y":1.18},{"c":31,"x":2.28,"y":1.36},{"c":31,"x":1.98,"y":1.18},{"c":31,"x":2.28,"y":1.00},
{"c":32,"x":1.40,"y":0.78},{"c":32,"x":1.28,"y":0.90},{"c":32,"x":1.16,"y":0.78},{"c":32,"x":1.28,"y":0.66},
{"c":33,"x":2.23,"y":0.33},{"c":33,"x":1.98,"y":0.45},{"c":33,"x":1.73,"y":0.33},{"c":33,"x":1.98,"y":0.21},
{"c":34,"x":5.93,"y":0.08},{"c":34,"x":6.18,"y":0.38},{"c":34,"x":6.48,"y":0.43},{"c":34,"x":6.58,"y":0.18},{"c":34,"x":6.43,"y":-0.07},
{"c":35,"x":7.18,"y":-0.07},{"c":35,"x":7.38,"y":0.33},{"c":35,"x":7.68,"y":0.51},{"c":35,"x":7.96,"y":0.35},{"c":35,"x":8.03,"y":-0.07}
],
"dn":[
{"c":37,"x":0.73,"y":7.08},{"c":37,"x":1.03,"y":7.18},{"c":37,"x":1.38,"y":6.98},{"c":37,"x":1.88,"y":6.88},{"c":37,"x":2.23,"y":6.73},{"c":37,"x":2.08,"y":6.43},{"c":37,"x":1.68,"y":6.28},{"c":37,"x":1.33,"y":6.48},{"c":37,"x":1.08,"y":6.78},{"c":37,"x":0.78,"y":6.88},
{"c":38,"x":2.63,"y":7.38},{"c":38,"x":3.08,"y":7.53},{"c":38,"x":3.53,"y":7.73},{"c":38,"x":3.78,"y":7.63},{"c":38,"x":4.13,"y":7.38},{"c":38,"x":4.33,"y":7.13},{"c":38,"x":4.03,"y":7.08},{"c":38,"x":3.48,"y":7.23},{"c":38,"x":2.88,"y":7.23},
{"c":39,"x":3.18,"y":8.28},{"c":39,"x":3.08,"y":8.38},{"c":39,"x":2.98,"y":8.28},{"c":39,"x":3.08,"y":8.18},
{"c":40,"x":4.46,"y":8.18},{"c":40,"x":4.28,"y":8.36},{"c":40,"x":4.10,"y":8.18},{"c":40,"x":4.28,"y":8.00},
{"c":41,"x":5.28,"y":7.78},{"c":41,"x":5.03,"y":7.96},{"c":41,"x":4.78,"y":7.78},{"c":41,"x":5.03,"y":7.60},
{"c":42,"x":6.18,"y":7.93},{"c":42,"x":6.03,"y":8.08},{"c":42,"x":5.88,"y":7.93},{"c":42,"x":6.03,"y":7.78},
{"c":43,"x":6.46,"y":7.01},{"c":43,"x":6.28,"y":7.16},{"c":43,"x":6.10,"y":7.01},{"c":43,"x":6.28,"y":6.86},
{"c":44,"x":0.40,"y":6.26},{"c":44,"x":0.30,"y":6.36},{"c":44,"x":0.20,"y":6.26},{"c":44,"x":0.30,"y":6.16},
{"c":45,"x":1.10,"y":5.73},{"c":45,"x":0.98,"y":5.85},{"c":45,"x":0.86,"y":5.73},{"c":45,"x":0.98,"y":5.61},
{"c":46,"x":4.60,"y":5.73},{"c":46,"x":4.48,"y":5.88},{"c":46,"x":4.36,"y":5.73},{"c":46,"x":4.48,"y":5.58},
{"c":47,"x":5.80,"y":5.18},{"c":47,"x":5.70,"y":5.28},{"c":47,"x":5.60,"y":5.18},{"c":47,"x":5.70,"y":5.08},
{"c":48,"x":6.38,"y":4.63},{"c":48,"x":6.28,"y":4.73},{"c":48,"x":6.18,"y":4.63},{"c":48,"x":6.28,"y":4.53},
{"c":49,"x":2.88,"y":4.31},{"c":49,"x":3.20,"y":4.51},{"c":49,"x":3.28,"y":5.01},{"c":49,"x":3.58,"y":5.11},{"c":49,"x":3.80,"y":4.91},{"c":49,"x":3.70,"y":4.48},{"c":49,"x":3.90,"y":4.13},{"c":49,"x":3.85,"y":3.73},{"c":49,"x":3.48,"y":3.61},{"c":49,"x":3.08,"y":3.76},{"c":49,"x":2.93,"y":4.01},
{"c":50,"x":3.73,"y":4.08},{"c":50,"x":3.48,"y":4.36},{"c":50,"x":3.23,"y":4.08},{"c":50,"x":3.48,"y":3.80},
{"c":51,"x":3.60,"y":4.08},{"c":51,"x":3.48,"y":4.20},{"c":51,"x":3.36,"y":4.08},{"c":51,"x":3.48,"y":3.96},
{"c":52,"x":5.80,"y":4.28},{"c":52,"x":5.50,"y":4.63},{"c":52,"x":5.20,"y":4.28},{"c":52,"x":5.50,"y":3.93},
{"c":53,"x":5.65,"y":4.28},{"c":53,"x":5.50,"y":4.43},{"c":53,"x":5.35,"y":4.28},{"c":53,"x":5.50,"y":4.13},
{"c":54,"x":5.55,"y":4.28},{"c":54,"x":5.50,"y":4.33},{"c":54,"x":5.45,"y":4.28},{"c":54,"x":5.50,"y":4.23},
{"c":55,"x":5.23,"y":3.48},{"c":55,"x":5.50,"y":3.53},{"c":55,"x":5.58,"y":3.23},{"c":55,"x":5.38,"y":3.11},{"c":55,"x":5.20,"y":3.21},
{"c":56,"x":3.08,"y":3.43},{"c":56,"x":2.93,"y":3.58},{"c":56,"x":2.78,"y":3.43},{"c":56,"x":2.93,"y":3.28},
{"c":57,"x":1.40,"y":2.91},{"c":57,"x":1.08,"y":3.06},{"c":57,"x":0.76,"y":2.91},{"c":57,"x":1.08,"y":2.76},
{"c":58,"x":1.50,"y":2.03},{"c":58,"x":1.18,"y":2.16},{"c":58,"x":0.86,"y":2.03},{"c":58,"x":1.18,"y":1.90},
{"c":59,"x":2.23,"y":1.78},{"c":59,"x":2.03,"y":1.93},{"c":59,"x":1.83,"y":1.78},{"c":59,"x":2.03,"y":1.63},
{"c":60,"x":4.06,"y":1.18},{"c":60,"x":3.68,"y":1.36},{"c":60,"x":3.30,"y":1.18},{"c":60,"x":3.68,"y":1.00},
{"c":61,"x":4.43,"y":0.33},{"c":61,"x":4.08,"y":0.48},{"c":61,"x":3.73,"y":0.33},{"c":61,"x":4.08,"y":0.18},
{"c":62,"x":5.18,"y":0.91},{"c":62,"x":4.98,"y":1.11},{"c":62,"x":4.78,"y":0.91},{"c":62,"x":4.98,"y":0.71},
{"c":63,"x":6.90,"y":2.95},{"c":63,"x":6.78,"y":3.07},{"c":63,"x":6.66,"y":2.95},{"c":63,"x":6.78,"y":2.83},
{"c":64,"x":8.03,"y":2.95},{"c":64,"x":7.83,"y":3.10},{"c":64,"x":7.63,"y":2.95},{"c":64,"x":7.83,"y":2.80},
{"c":65,"x":6.58,"y":1.93},{"c":65,"x":6.53,"y":1.98},{"c":65,"x":6.48,"y":1.93},{"c":65,"x":6.53,"y":1.88},
{"c":66,"x":8.58,"y":2.28},{"c":66,"x":8.43,"y":2.43},{"c":66,"x":8.28,"y":2.28},{"c":66,"x":8.43,"y":2.13},
{"c":67,"x":2.25,"y":0.68},{"c":67,"x":2.13,"y":0.80},{"c":67,"x":2.01,"y":0.68},{"c":67,"x":2.13,"y":0.56},
{"c":68,"x":6.19,"y":3.65},{"c":68,"x":6.13,"y":3.71},{"c":68,"x":6.07,"y":3.65},{"c":68,"x":6.13,"y":3.59}
]
},
"concat":[
{"width":287,"height":285,"layer":[
 {"data":{"name":"ap"},"transform":[{"window":[{"op":"row_number","as":"i"}],"groupby":["c"]}],"mark":{"type":"line","interpolate":"cardinal-closed","clip":true,"color":"black","strokeWidth":1.6},"encoding":{"x":{"field":"x","type":"quantitative","scale":{"domain":[0,8.6],"nice":false,"zero":false},"title":"[1 0 0] ------>"},"y":{"field":"y","type":"quantitative","scale":{"domain":[0,8.55],"nice":false,"zero":false},"title":"[0 0 1] ------>"},"detail":{"field":"c"},"order":{"field":"i"}}},
 {"data":{"name":"an"},"transform":[{"window":[{"op":"row_number","as":"i"}],"groupby":["c"]}],"mark":{"type":"line","interpolate":"cardinal-closed","clip":true,"color":"black","strokeWidth":1.3,"strokeDash":[1.5,1.6]},"encoding":{"x":{"field":"x","type":"quantitative","scale":{"domain":[0,8.6],"nice":false,"zero":false},"title":"[1 0 0] ------>"},"y":{"field":"y","type":"quantitative","scale":{"domain":[0,8.55],"nice":false,"zero":false},"title":"[0 0 1] ------>"},"detail":{"field":"c"},"order":{"field":"i"}}},
 {"data":{"name":"atoms"},"transform":[{"filter":"datum.p==='a'"}],"mark":{"type":"point","shape":"M-1,0H1M0,-1V1","size":110,"filled":false,"stroke":"black","strokeWidth":1.2,"opacity":1},"encoding":{"x":{"field":"x","type":"quantitative","scale":{"domain":[0,8.6],"nice":false,"zero":false},"title":"[1 0 0] ------>"},"y":{"field":"y","type":"quantitative","scale":{"domain":[0,8.55],"nice":false,"zero":false},"title":"[0 0 1] ------>"}}},
 {"data":{"name":"atoms"},"transform":[{"filter":"datum.p==='a'"}],"mark":{"type":"text","align":"left","baseline":"alphabetic","font":"Liberation Sans","fontSize":18,"color":"black"},"encoding":{"x":{"field":"tx","type":"quantitative","scale":{"domain":[0,8.6],"nice":false,"zero":false},"title":"[1 0 0] ------>"},"y":{"field":"ty","type":"quantitative","scale":{"domain":[0,8.55],"nice":false,"zero":false},"title":"[0 0 1] ------>"},"text":{"field":"t"}}},
 {"data":{"name":"letters"},"transform":[{"filter":"datum.p==='a'"}],"mark":{"type":"text","align":"left","baseline":"middle","font":"Liberation Serif","fontStyle":"italic","fontSize":18,"color":"black"},"encoding":{"x":{"field":"x","type":"quantitative","scale":{"domain":[0,8.6],"nice":false,"zero":false},"title":"[1 0 0] ------>"},"y":{"field":"y","type":"quantitative","scale":{"domain":[0,8.55],"nice":false,"zero":false},"title":"[0 0 1] ------>"},"text":{"field":"t"}}}
]},
{"width":287,"height":285,"layer":[
 {"data":{"name":"bp"},"transform":[{"window":[{"op":"row_number","as":"i"}],"groupby":["c"]}],"mark":{"type":"line","interpolate":"cardinal-closed","clip":true,"color":"black","strokeWidth":1.6},"encoding":{"x":{"field":"x","type":"quantitative","scale":{"domain":[0,8.6],"nice":false,"zero":false},"title":"[1 0 0] ------>"},"y":{"field":"y","type":"quantitative","scale":{"domain":[0,8.55],"nice":false,"zero":false},"title":"[0 0 1] ------>"},"detail":{"field":"c"},"order":{"field":"i"}}},
 {"data":{"name":"bn"},"transform":[{"window":[{"op":"row_number","as":"i"}],"groupby":["c"]}],"mark":{"type":"line","interpolate":"cardinal-closed","clip":true,"color":"black","strokeWidth":1.3,"strokeDash":[1.5,1.6]},"encoding":{"x":{"field":"x","type":"quantitative","scale":{"domain":[0,8.6],"nice":false,"zero":false},"title":"[1 0 0] ------>"},"y":{"field":"y","type":"quantitative","scale":{"domain":[0,8.55],"nice":false,"zero":false},"title":"[0 0 1] ------>"},"detail":{"field":"c"},"order":{"field":"i"}}},
 {"data":{"name":"atoms"},"transform":[{"filter":"datum.p==='b'"}],"mark":{"type":"point","shape":"M-1,0H1M0,-1V1","size":110,"filled":false,"stroke":"black","strokeWidth":1.2,"opacity":1},"encoding":{"x":{"field":"x","type":"quantitative","scale":{"domain":[0,8.6],"nice":false,"zero":false},"title":"[1 0 0] ------>"},"y":{"field":"y","type":"quantitative","scale":{"domain":[0,8.55],"nice":false,"zero":false},"title":"[0 0 1] ------>"}}},
 {"data":{"name":"atoms"},"transform":[{"filter":"datum.p==='b'"}],"mark":{"type":"text","align":"left","baseline":"alphabetic","font":"Liberation Sans","fontSize":18,"color":"black"},"encoding":{"x":{"field":"tx","type":"quantitative","scale":{"domain":[0,8.6],"nice":false,"zero":false},"title":"[1 0 0] ------>"},"y":{"field":"ty","type":"quantitative","scale":{"domain":[0,8.55],"nice":false,"zero":false},"title":"[0 0 1] ------>"},"text":{"field":"t"}}},
 {"data":{"name":"letters"},"transform":[{"filter":"datum.p==='b'"}],"mark":{"type":"text","align":"left","baseline":"middle","font":"Liberation Serif","fontStyle":"italic","fontSize":18,"color":"black"},"encoding":{"x":{"field":"x","type":"quantitative","scale":{"domain":[0,8.6],"nice":false,"zero":false},"title":"[1 0 0] ------>"},"y":{"field":"y","type":"quantitative","scale":{"domain":[0,8.55],"nice":false,"zero":false},"title":"[0 0 1] ------>"},"text":{"field":"t"}}}
]},
{"width":287,"height":285,"layer":[
 {"data":{"name":"cp"},"transform":[{"window":[{"op":"row_number","as":"i"}],"groupby":["c"]}],"mark":{"type":"line","interpolate":"cardinal-closed","clip":true,"color":"black","strokeWidth":1.6},"encoding":{"x":{"field":"x","type":"quantitative","scale":{"domain":[0,8.6],"nice":false,"zero":false},"title":"[1 0 0] ------>"},"y":{"field":"y","type":"quantitative","scale":{"domain":[0,8.55],"nice":false,"zero":false},"title":"[0 0 1] ------>"},"detail":{"field":"c"},"order":{"field":"i"}}},
 {"data":{"name":"cn"},"transform":[{"window":[{"op":"row_number","as":"i"}],"groupby":["c"]}],"mark":{"type":"line","interpolate":"cardinal-closed","clip":true,"color":"black","strokeWidth":1.3,"strokeDash":[1.5,1.6]},"encoding":{"x":{"field":"x","type":"quantitative","scale":{"domain":[0,8.6],"nice":false,"zero":false},"title":"[1 0 0] ------>"},"y":{"field":"y","type":"quantitative","scale":{"domain":[0,8.55],"nice":false,"zero":false},"title":"[0 0 1] ------>"},"detail":{"field":"c"},"order":{"field":"i"}}},
 {"data":{"name":"atoms"},"transform":[{"filter":"datum.p==='c'"}],"mark":{"type":"point","shape":"M-1,0H1M0,-1V1","size":110,"filled":false,"stroke":"black","strokeWidth":1.2,"opacity":1},"encoding":{"x":{"field":"x","type":"quantitative","scale":{"domain":[0,8.6],"nice":false,"zero":false},"title":"[1 0 0] ------>"},"y":{"field":"y","type":"quantitative","scale":{"domain":[0,8.55],"nice":false,"zero":false},"title":"[0 0 1] ------>"}}},
 {"data":{"name":"atoms"},"transform":[{"filter":"datum.p==='c'"}],"mark":{"type":"text","align":"left","baseline":"alphabetic","font":"Liberation Sans","fontSize":18,"color":"black"},"encoding":{"x":{"field":"tx","type":"quantitative","scale":{"domain":[0,8.6],"nice":false,"zero":false},"title":"[1 0 0] ------>"},"y":{"field":"ty","type":"quantitative","scale":{"domain":[0,8.55],"nice":false,"zero":false},"title":"[0 0 1] ------>"},"text":{"field":"t"}}},
 {"data":{"name":"letters"},"transform":[{"filter":"datum.p==='c'"}],"mark":{"type":"text","align":"left","baseline":"middle","font":"Liberation Serif","fontStyle":"italic","fontSize":18,"color":"black"},"encoding":{"x":{"field":"x","type":"quantitative","scale":{"domain":[0,8.6],"nice":false,"zero":false},"title":"[1 0 0] ------>"},"y":{"field":"y","type":"quantitative","scale":{"domain":[0,8.55],"nice":false,"zero":false},"title":"[0 0 1] ------>"},"text":{"field":"t"}}}
]},
{"width":287,"height":285,"layer":[
 {"data":{"name":"dp"},"transform":[{"window":[{"op":"row_number","as":"i"}],"groupby":["c"]}],"mark":{"type":"line","interpolate":"cardinal-closed","clip":true,"color":"black","strokeWidth":1.6},"encoding":{"x":{"field":"x","type":"quantitative","scale":{"domain":[0,8.6],"nice":false,"zero":false},"title":"[1 0 0] ------>"},"y":{"field":"y","type":"quantitative","scale":{"domain":[0,8.55],"nice":false,"zero":false},"title":"[0 0 1] ------>"},"detail":{"field":"c"},"order":{"field":"i"}}},
 {"data":{"name":"dn"},"transform":[{"window":[{"op":"row_number","as":"i"}],"groupby":["c"]}],"mark":{"type":"line","interpolate":"cardinal-closed","clip":true,"color":"black","strokeWidth":1.3,"strokeDash":[1.5,1.6]},"encoding":{"x":{"field":"x","type":"quantitative","scale":{"domain":[0,8.6],"nice":false,"zero":false},"title":"[1 0 0] ------>"},"y":{"field":"y","type":"quantitative","scale":{"domain":[0,8.55],"nice":false,"zero":false},"title":"[0 0 1] ------>"},"detail":{"field":"c"},"order":{"field":"i"}}},
 {"data":{"name":"atoms"},"transform":[{"filter":"datum.p==='d'"}],"mark":{"type":"point","shape":"M-1,0H1M0,-1V1","size":110,"filled":false,"stroke":"black","strokeWidth":1.2,"opacity":1},"encoding":{"x":{"field":"x","type":"quantitative","scale":{"domain":[0,8.6],"nice":false,"zero":false},"title":"[1 0 0] ------>"},"y":{"field":"y","type":"quantitative","scale":{"domain":[0,8.55],"nice":false,"zero":false},"title":"[0 0 1] ------>"}}},
 {"data":{"name":"atoms"},"transform":[{"filter":"datum.p==='d'"}],"mark":{"type":"text","align":"left","baseline":"alphabetic","font":"Liberation Sans","fontSize":18,"color":"black"},"encoding":{"x":{"field":"tx","type":"quantitative","scale":{"domain":[0,8.6],"nice":false,"zero":false},"title":"[1 0 0] ------>"},"y":{"field":"ty","type":"quantitative","scale":{"domain":[0,8.55],"nice":false,"zero":false},"title":"[0 0 1] ------>"},"text":{"field":"t"}}},
 {"data":{"name":"letters"},"transform":[{"filter":"datum.p==='d'"}],"mark":{"type":"text","align":"left","baseline":"middle","font":"Liberation Serif","fontStyle":"italic","fontSize":18,"color":"black"},"encoding":{"x":{"field":"x","type":"quantitative","scale":{"domain":[0,8.6],"nice":false,"zero":false},"title":"[1 0 0] ------>"},"y":{"field":"y","type":"quantitative","scale":{"domain":[0,8.55],"nice":false,"zero":false},"title":"[0 0 1] ------>"},"text":{"field":"t"}}}
]}
]
}
